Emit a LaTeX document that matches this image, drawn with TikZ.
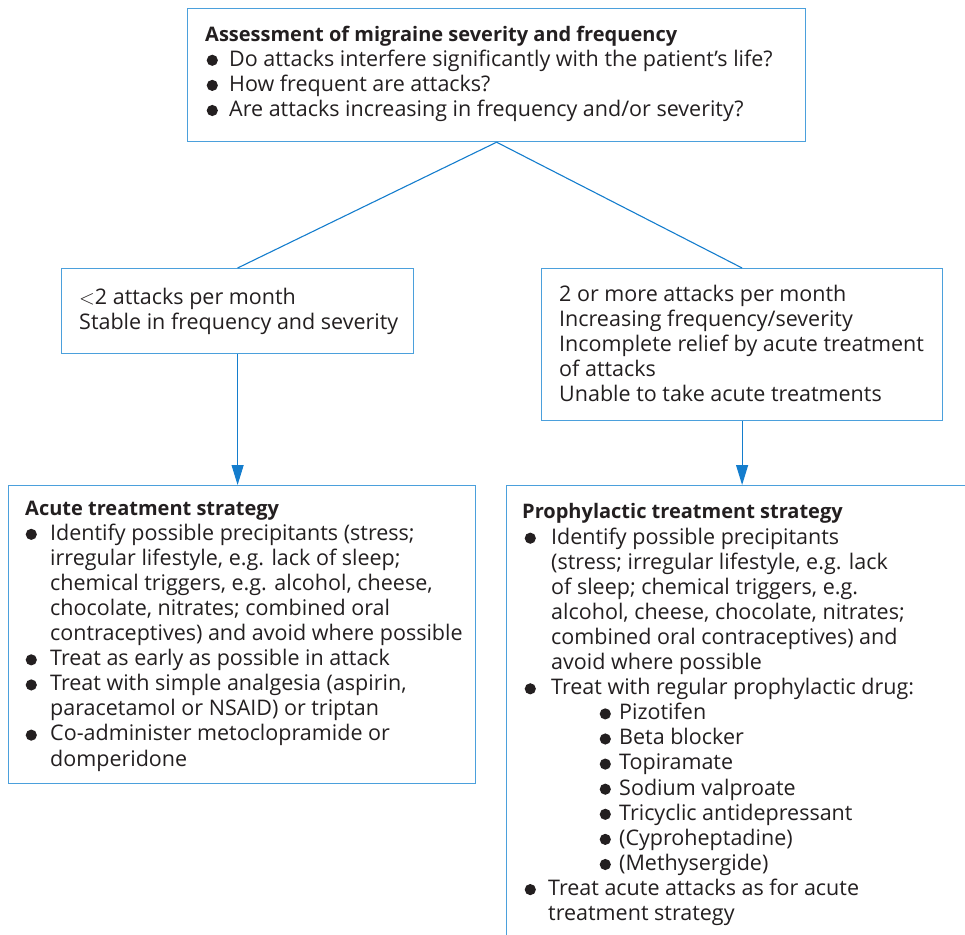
\documentclass[tikz,border=0pt]{standalone}
\usepackage{fontspec}
\setmainfont{Open Sans}
\usetikzlibrary{arrows.meta}
\definecolor{bord}{RGB}{75,160,220}
\definecolor{conn}{RGB}{20,125,205}
\definecolor{txt}{RGB}{35,31,32}
\newcommand\bul{\tikz[baseline=-0.27em]\fill[txt] (0,0) circle (0.26em);}
\newcommand\itm[2]{\makebox[#1][l]{\hspace*{#2}\bul}}
\newcommand\ttl[1]{{\fontsize{20}{25.1}\selectfont\bfseries #1}}
\tikzset{
  box/.style={draw=bord, line width=1.2pt, rectangle, inner sep=0pt, anchor=north west},
  txtnode/.style={anchor=north west, inner sep=0pt, align=left, text=txt,
                  font=\fontsize{21.5}{25.1}\selectfont},
  conline/.style={draw=conn, line width=1.1pt},
  arr/.style={conline, -{Triangle[width=12pt,length=20pt]}},
}
\begin{document}
\begin{tikzpicture}[x=1pt,y=-1pt]
\useasboundingbox (0,0) rectangle (965,934);
\clip (0,0) rectangle (965,934);
% boxes
\node[box, minimum width=618pt, minimum height=133pt] (top) at (187,8) {};
\node[box, minimum width=352pt, minimum height=85pt] (lmid) at (61,268) {};
\node[box, minimum width=401pt, minimum height=152pt] (rmid) at (541,268) {};
\node[box, minimum width=467pt, minimum height=298pt] (lbot) at (8,485) {};
\node[box, minimum width=520pt, minimum height=520pt] (rbot) at (506,485) {};
% texts
\node[txtnode] (ttop) at (205,25.5) {%
\ttl{Assessment of migraine severity and frequency}\\
\itm{24pt}{1.5pt}Do attacks interfere significantly with the patient's life?\\
\itm{24pt}{1.5pt}How frequent are attacks?\\
\itm{24pt}{1.5pt}Are attacks increasing in frequency and/or severity?};
\node[txtnode] (tlmid) at (79,287.5) {%
$<$2 attacks per month\\
Stable in frequency and severity};
\node[txtnode] (trmid) at (559,284.5) {%
2 or more attacks per month\\
Increasing frequency/severity\\
Incomplete relief by acute treatment\\
of attacks\\
Unable to take acute treatments};
\node[txtnode] (tlbot) at (25,500.5) {%
\ttl{Acute treatment strategy}\\
\itm{25pt}{0.5pt}Identify possible precipitants (stress;\\
\hspace*{25pt}irregular lifestyle, e.g. lack of sleep;\\
\hspace*{25pt}chemical triggers, e.g. alcohol, cheese,\\
\hspace*{25pt}chocolate, nitrates; combined oral\\
\hspace*{25pt}contraceptives) and avoid where possible\\
\itm{25pt}{0.5pt}Treat as early as possible in attack\\
\itm{25pt}{0.5pt}Treat with simple analgesia (aspirin,\\
\hspace*{25pt}paracetamol or NSAID) or triptan\\
\itm{25pt}{0.5pt}Co-administer metoclopramide or\\
\hspace*{25pt}domperidone};
\node[txtnode] (trbot) at (522,503.5) {%
\ttl{Prophylactic treatment strategy}\\
\itm{29pt}{2.5pt}Identify possible precipitants\\
\hspace*{29pt}(stress; irregular lifestyle, e.g. lack\\
\hspace*{29pt}of sleep; chemical triggers, e.g.\\
\hspace*{29pt}alcohol, cheese, chocolate, nitrates;\\
\hspace*{29pt}combined oral contraceptives) and\\
\hspace*{29pt}avoid where possible\\
\itm{29pt}{2.5pt}Treat with regular prophylactic drug:\\
\hspace*{77.5pt}\itm{19.5pt}{0pt}Pizotifen\\
\hspace*{77.5pt}\itm{19.5pt}{0pt}Beta blocker\\
\hspace*{77.5pt}\itm{19.5pt}{0pt}Topiramate\\
\hspace*{77.5pt}\itm{19.5pt}{0pt}Sodium valproate\\
\hspace*{77.5pt}\itm{19.5pt}{0pt}Tricyclic antidepressant\\
\hspace*{77.5pt}\itm{19.5pt}{0pt}(Cyproheptadine)\\
\hspace*{77.5pt}\itm{19.5pt}{0pt}(Methysergide)\\
\itm{26pt}{2.5pt}Treat acute attacks as for acute\\
\hspace*{26pt}treatment strategy};
% connectors
\draw[conline] (top.south) -- (lmid.north);
\draw[conline] (top.south) -- (rmid.north);
\draw[arr] (lmid.south) -- (lmid.south |- lbot.north);
\draw[arr] (rmid.south) -- (rmid.south |- rbot.north);
\end{tikzpicture}
\end{document}
